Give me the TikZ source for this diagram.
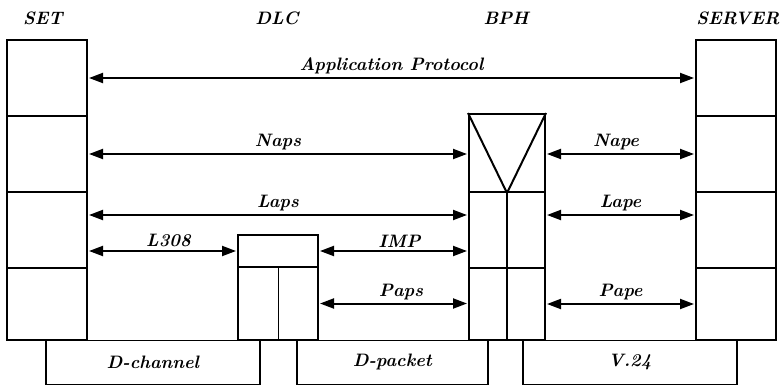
\documentclass[tikz,border=0pt]{standalone}
\usepackage{fontspec}
\usetikzlibrary{arrows.meta}
\newcommand{\lbl}{\fontsize{18}{20}\selectfont\bfseries\itshape}
\begin{document}
\begin{tikzpicture}[x=1pt,y=-1pt,
  cell/.style={draw,line width=2pt,minimum width=80pt,inner sep=0pt,anchor=north west},
  base/.style={draw,line width=1.6pt,inner sep=0pt,anchor=north west,minimum height=44pt,font=\lbl},
  title/.style={font=\lbl},
  lab/.style={font=\lbl,anchor=south,inner sep=2pt,yshift=1pt},
  conn/.style={line width=2pt,{Triangle[length=14pt,width=10pt]}-{Triangle[length=14pt,width=10pt]},shorten <=1pt,shorten >=1pt}]
\useasboundingbox (0,0) rectangle (782,386);
% SET stack
\node[cell,minimum height=76pt] (set1) at (6,39) {};
\node[cell,minimum height=76pt] (set2) at (6,115) {};
\node[cell,minimum height=76pt] (set3) at (6,191) {};
\node[cell,minimum height=72pt] (set4) at (6,267) {};
% SERVER stack
\node[cell,minimum height=76pt] (srv1) at (695,39) {};
\node[cell,minimum height=76pt] (srv2) at (695,115) {};
\node[cell,minimum height=76pt] (srv3) at (695,191) {};
\node[cell,minimum height=72pt] (srv4) at (695,267) {};
% BPH stack
\node[cell,minimum width=76pt,minimum height=78pt] (bph2) at (468,113) {};
\node[cell,minimum width=76pt,minimum height=76pt] (bph3) at (468,191) {};
\node[cell,minimum width=76pt,minimum height=72pt] (bph4) at (468,267) {};
\draw[line width=2pt] (bph2.north west) -- (bph2.south) -- (bph2.north east);
\draw[line width=2pt] (bph3.north) -- (bph4.south);
% DLC stack
\node[cell,minimum height=32pt] (dlct) at (237,234) {};
\node[cell,minimum height=73pt] (dlcb) at (237,266) {};
\draw[line width=1pt] ([xshift=0.5pt]dlcb.north) -- ([xshift=0.5pt]dlcb.south);
% bottom boxes
\node[base,minimum width=214pt] (dch) at (45,339.5) {D-channel};
\node[base,minimum width=191pt] (dpk) at (296,339.5) {D-packet};
\node[base,minimum width=214pt] (v24) at (522,339.5) {V.24};
% titles
\node[title] (tset) at (43,18) {SET};
\node[title] (tdlc) at (277,18) {DLC};
\node[title] (tbph) at (506,18) {BPH};
\node[title] (tsrv) at (738,18) {SERVER};
% connectors
\draw[conn] (set1.east) -- node[lab,pos=0.5]{Application Protocol} (srv1.west);
\draw[conn] (set2.east) -- node[lab]{Naps} (set2.east -| bph2.west);
\draw[conn] (bph2.east |- set2.east) -- node[lab,pos=0.47]{Nape} (srv2.west);
\draw[conn] ([yshift=15pt]set3.east) -- node[lab]{Laps} ([yshift=15pt]set3.east -| bph3.west);
\draw[conn] ([yshift=15pt]bph3.east |- set3.east) -- node[lab]{Lape} ([yshift=15pt]srv3.west);
\draw[conn] (set3.east |- dlct.west) -- node[lab,pos=0.54]{L308} (dlct.west);
\draw[conn] (dlct.east) -- node[lab,pos=0.54]{IMP} (dlct.east -| bph3.west);
\draw[conn] (dlcb.east) -- node[lab,pos=0.55]{Paps} (dlcb.east -| bph4.west);
\draw[conn] (bph4.east) -- node[lab]{Pape} (srv4.west);
\end{tikzpicture}
\end{document}
